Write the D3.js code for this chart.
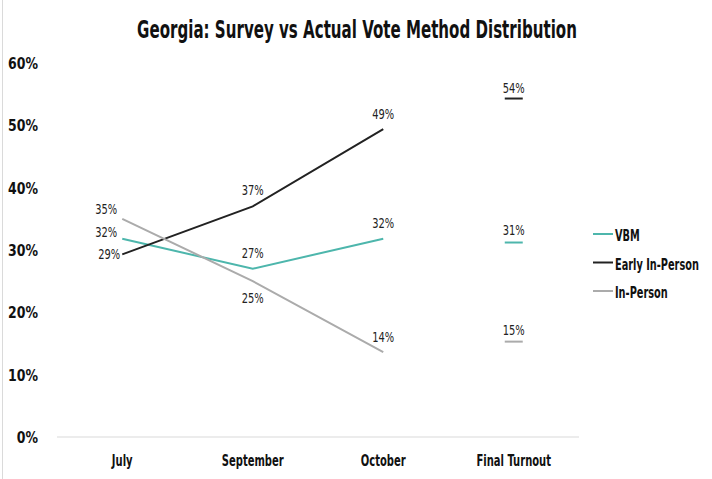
<!DOCTYPE html>
<html><head><meta charset="utf-8">
<script src="https://cdn.jsdelivr.net/npm/d3@7"></script>
<style>
body{margin:0;background:#fff;}
text{font-family:"DejaVu Sans Condensed","DejaVu Sans",sans-serif;}
</style></head>
<body><svg id="c" width="712" height="479"></svg>
<script>
const categories = ["July","September","October","Final Turnout"];
const surveyCats = ["July","September","October"];
const vbm = [31.8, 27.0, 31.8];
const earlyInPerson = [29.3, 37.0, 49.4];
const inPerson = [35.0, 25.0, 13.6];
const finalTurnout = [31.2, 54.3, 15.3]; // VBM, Early In-Person, In-Person
const seriesNames = ["VBM","Early In-Person","In-Person"];
const seriesColors = ["#4db6ac","#222222","#ababab"];
const yTicks = [0,10,20,30,40,50,60];
const title = "Georgia: Survey vs Actual Vote Method Distribution";

const svg = d3.select("#c");
const x = d3.scaleBand().domain(categories).range([57, 579]);
const xc = c => x(c) + x.bandwidth()/2;
const y = d3.scaleLinear().domain([0,60]).range([437, 63]);
const pct = v => Math.round(v) + "%";

// condense a group of texts horizontally so that a calibration string gets a target width
function condense(sel, calibText, target){
  let k = null;
  sel.each(function(){ if (this.textContent === calibText) k = target / this.getComputedTextLength(); });
  if (k === null) return;
  sel.each(function(){
    const x0 = +(this.getAttribute("x") || 0);
    d3.select(this).attr("transform", `translate(${x0},0) scale(${k},1) translate(${-x0},0)`);
  });
}

// frame left border
svg.append("line").attr("x1",2.5).attr("x2",2.5).attr("y1",0).attr("y2",479).attr("stroke","#dadada").attr("stroke-width",1);

// title
const tt = svg.append("text").attr("x",357).attr("y",38).attr("text-anchor","middle")
  .attr("font-size",24).attr("font-weight","bold").attr("fill","#111").text(title);
condense(tt, title, 440);

// y axis
const yAxis = d3.axisLeft(y).tickValues(yTicks).tickFormat(d=>d+"%").tickSize(0).tickPadding(0);
const ya = svg.append("g").attr("transform","translate(38,0)").call(yAxis);
ya.select(".domain").remove();
ya.selectAll("text").attr("font-size",15).attr("font-weight","bold").attr("fill","#111").attr("dy","0.36em")
  .style("font-family",'"DejaVu Sans Condensed",sans-serif');
condense(ya.selectAll("text"), "60%", 30);

// baseline
svg.append("line").attr("x1",57).attr("x2",579).attr("y1",y(0)).attr("y2",y(0)).attr("stroke","#e6e6e6").attr("stroke-width",1.5);

// x axis
const xAxis = d3.axisBottom(x).tickSize(0).tickPadding(0);
const xa = svg.append("g").attr("transform","translate(0,461)").call(xAxis);
xa.select(".domain").remove();
xa.selectAll("text").attr("font-size",15).attr("font-weight","bold").attr("fill","#111").attr("dy","0.36em").attr("y",0)
  .style("font-family",'"DejaVu Sans Condensed",sans-serif');
condense(xa.selectAll("text"), "September", 62);

// lines
const data = [vbm, earlyInPerson, inPerson];
const line = d3.line().x((d,i)=>xc(surveyCats[i])).y(d=>y(d));
data.forEach((vals,k)=>{
  svg.append("path").datum(vals).attr("d",line).attr("fill","none")
    .attr("stroke",seriesColors[k]).attr("stroke-width",2);
});

const labels = svg.append("g");
function lab(xp, yp, t, anchor){
  labels.append("text").attr("x",xp).attr("y",yp).attr("text-anchor",anchor||"middle")
    .attr("dy","0.36em").attr("font-size",14).attr("fill","#222").text(t);
}

// final turnout markers
const fx = xc("Final Turnout");
finalTurnout.forEach((v,k)=>{
  svg.append("line").attr("x1",fx-9).attr("x2",fx+9)
    .attr("y1",y(v)).attr("y2",y(v)).attr("stroke",seriesColors[k]).attr("stroke-width",2);
});
lab(fx, y(finalTurnout[1])-11, pct(finalTurnout[1]));
lab(fx, y(finalTurnout[0])-13, pct(finalTurnout[0]));
lab(fx, y(finalTurnout[2])-12, pct(finalTurnout[2]));

// July: left of point
lab(xc("July")-5, y(inPerson[0])-10, pct(inPerson[0]), "end");
lab(xc("July")-5, y(vbm[0])-7, pct(vbm[0]), "end");
lab(xc("July")-2, y(earlyInPerson[0]), pct(earlyInPerson[0]), "end");
// September
lab(xc("September"), y(earlyInPerson[1])-16, pct(earlyInPerson[1]));
lab(xc("September"), y(vbm[1])-16, pct(vbm[1]));
lab(xc("September"), y(inPerson[1])+17, pct(inPerson[1]));
// October
lab(xc("October"), y(earlyInPerson[2])-15, pct(earlyInPerson[2]));
lab(xc("October"), y(vbm[2])-16, pct(vbm[2]));
lab(xc("October"), y(inPerson[2])-15, pct(inPerson[2]));
condense(labels.selectAll("text"), "54%", 22);

// legend
const lg = svg.append("g");
seriesNames.forEach((n,k)=>{
  const ly = 234 + k*28.5;
  lg.append("line").attr("x1",593).attr("x2",613).attr("y1",ly).attr("y2",ly)
    .attr("stroke",seriesColors[k]).attr("stroke-width",2);
  lg.append("text").attr("x",615).attr("y",ly+1.5).attr("dy","0.36em").attr("font-size",16)
    .attr("font-weight","bold").attr("fill","#111").text(n);
});
condense(lg.selectAll("text"), "Early In-Person", 84);
</script></body></html>
